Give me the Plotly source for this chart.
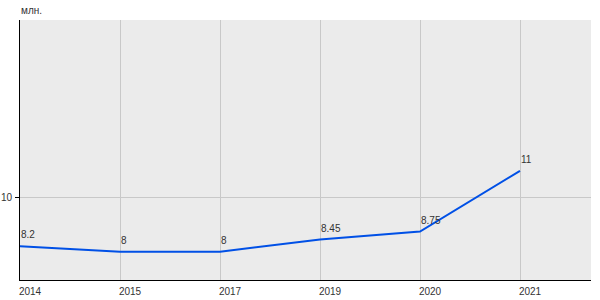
import plotly.graph_objects as go

years = ["2014", "2015", "2017", "2019", "2020", "2021"]
values = [8.2, 8, 8, 8.45, 8.75, 11]
value_labels = ["8.2", "8", "8", "8.45", "8.75", "11"]
y_ticks = [10]
y_tick_labels = ["10"]
unit_label = "млн."

FONT = "Liberation Sans, Arial, sans-serif"

fig = go.Figure()
fig.add_trace(go.Scatter(
    x=list(range(len(years))), y=values, mode="lines",
    line=dict(color="#0050e6", width=2), hoverinfo="skip", showlegend=False,
))

annotations = []
for i, (v, t) in enumerate(zip(values, value_labels)):
    annotations.append(dict(
        x=i, y=v, xref="x", yref="y", text=t, showarrow=False,
        xanchor="left", yanchor="bottom", yshift=4, xshift=-1,
        font=dict(family=FONT, size=10, color="#333333"),
    ))
annotations.append(dict(
    x=0, y=1, xref="paper", yref="paper", text=unit_label, showarrow=False,
    xanchor="left", yanchor="bottom", yshift=2, xshift=-1,
    font=dict(family=FONT, size=10, color="#333333"),
))

fig.update_layout(
    width=600, height=300,
    margin=dict(l=20, r=9, t=20, b=20),
    paper_bgcolor="white", plot_bgcolor="#ebebeb",
    annotations=annotations,
    font=dict(family=FONT, size=10, color="#333333"),
)
fig.update_xaxes(
    range=[0, 5.71], tickmode="array", tickvals=list(range(len(years))), ticktext=years,
    showgrid=True, gridcolor="#c8c8c8", gridwidth=1, automargin=False,
    showline=True, linecolor="black", linewidth=1, ticks="", zeroline=False,
    ticklabelshift=10, ticklabelstandoff=2,
    tickfont=dict(family=FONT, size=10, color="#333333"),
)
fig.update_yaxes(
    range=[6.95, 16.6], tickmode="array", tickvals=y_ticks, ticktext=y_tick_labels,
    showgrid=True, gridcolor="#c8c8c8", gridwidth=1, automargin=False,
    showline=True, linecolor="black", linewidth=1, ticks="outside", ticklen=4, tickcolor="black",
    zeroline=False, ticklabelstandoff=1,
    tickfont=dict(family=FONT, size=10, color="#333333"),
)

fig.write_html("out.html")
